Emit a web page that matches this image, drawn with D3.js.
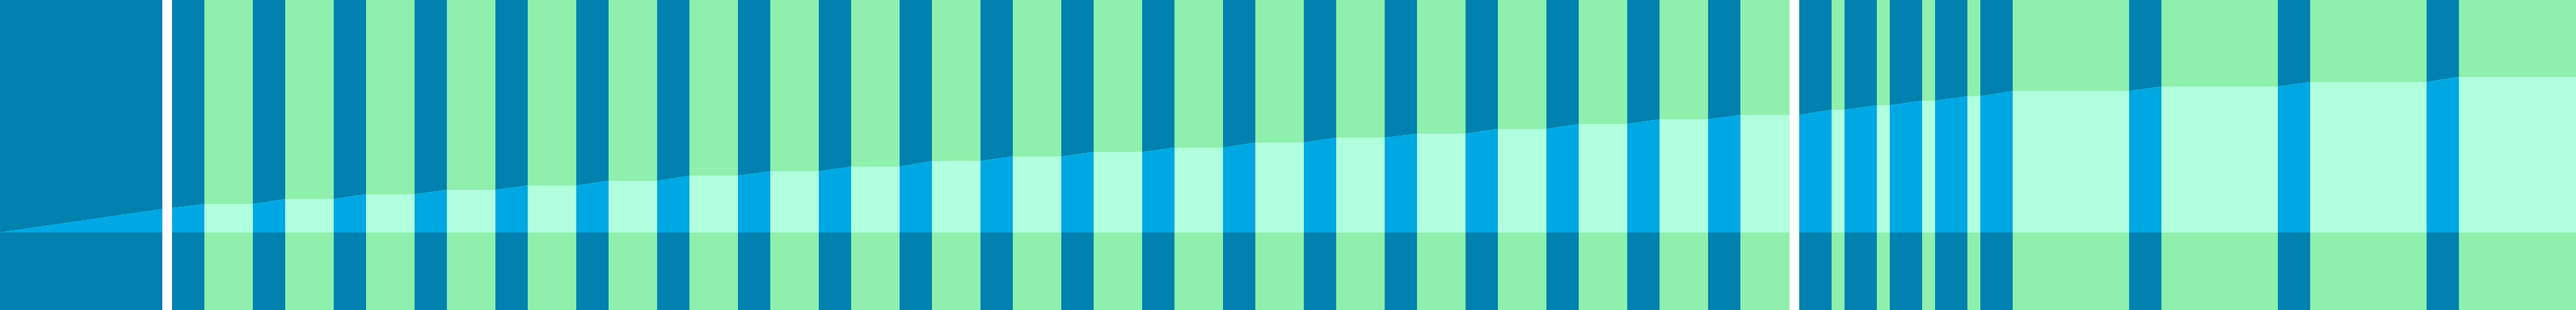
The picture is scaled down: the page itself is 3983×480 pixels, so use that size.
<!DOCTYPE html>
<html>
<head>
<meta charset="utf-8">
<script src="https://cdn.jsdelivr.net/npm/d3@7"></script>
<style>
  html, body { margin: 0; padding: 0; background: #fff; }
  svg { display: block; }
</style>
</head>
<body>
<svg id="chart"></svg>
<script>
// time runs in abstract units (1 unit = 5 px at this size)
var tEnd = 796.6;

// "on" periods (dark bands) - start / end
var darkStart = [0, 53.2, 78.2, 103.2, 128.2, 153.2, 178.2, 203.2, 228.2, 253.2, 278.2,
  303.2, 328.2, 353.2, 378.2, 403.2, 428.2, 453.2, 478.2, 503.2, 528.2,
  556.4, 570.4, 584.4, 598.4, 612.4,
  658.4, 704.4, 750.4];
var darkEnd = [50.2, 63.2, 88.2, 113.2, 138.2, 163.2, 188.2, 213.2, 238.2, 263.2, 288.2,
  313.2, 338.2, 363.2, 388.2, 413.2, 438.2, 463.2, 488.2, 513.2, 538.2,
  566.4, 580.4, 594.4, 608.4, 622.4,
  668.4, 714.4, 760.4];

// cumulative value at the start / end of each dark band
var valueStart = [0, 38, 44, 51.7, 59.3, 66, 72.7, 80, 88, 94.7, 102,
  110.7, 117.7, 124.7, 131.3, 139.3, 146.7, 153, 160.3, 168, 175.3,
  182, 190, 197, 204, 211,
  219, 226, 233];
var valueEnd = [36.3, 44, 51.7, 59.3, 66, 72.7, 80, 88, 94.7, 102, 110.7,
  117.7, 124.7, 131.3, 139.3, 146.7, 153, 160.3, 168, 175.3, 182,
  190, 197, 204, 211, 219,
  226, 233, 241];

// breaks in the record
var gaps = [[50.2, 53.2], [553.4, 556.4]];

var width = 3983, height = 480;

var x = d3.scaleLinear().domain([0, tEnd]).range([0, width]);
var y = d3.scaleLinear().domain([-120, 360]).range([height, 0]);

var svg = d3.select('#chart')
  .attr('width', width)
  .attr('height', height);

var bands = darkStart.map(function(d, i) { return {start: d, end: darkEnd[i]}; });

// line points: ramp during dark bands, hold in between
var pts = [];
darkStart.forEach(function(d, i) {
  pts.push({t: d, v: valueStart[i]});
  pts.push({t: darkEnd[i], v: valueEnd[i]});
});
pts.push({t: tEnd, v: valueEnd[valueEnd.length - 1]});

var area = d3.area()
  .x(function(d) { return x(d.t); })
  .y0(y(0))
  .y1(function(d) { return y(d.v); })
  .curve(d3.curveLinear);

svg.append('defs').append('clipPath')
  .attr('id', 'areaClip')
  .append('path')
  .attr('d', area(pts));

function drawBands(g, bg, fg) {
  g.append('rect')
    .attr('x', x(0))
    .attr('y', 0)
    .attr('width', x(tEnd) - x(0))
    .attr('height', height)
    .style('fill', bg);
  g.selectAll('rect.dark')
    .data(bands)
    .enter().append('rect')
    .attr('class', 'dark')
    .attr('x', function(d) { return x(d.start); })
    .attr('y', 0)
    .attr('width', function(d) { return x(d.end) - x(d.start); })
    .attr('height', height)
    .attr('shape-rendering', 'crispEdges')
    .style('fill', fg);
}

drawBands(svg.append('g'), '#8FEFAC', '#0081B0');
drawBands(svg.append('g').attr('clip-path', 'url(#areaClip)'), '#B0FFDD', '#00A8E3');

svg.append('g').selectAll('rect')
  .data(gaps)
  .enter().append('rect')
  .attr('x', function(d) { return x(d[0]); })
  .attr('y', 0)
  .attr('width', function(d) { return x(d[1]) - x(d[0]); })
  .attr('height', height)
  .attr('shape-rendering', 'crispEdges')
  .style('fill', '#fff');
</script>
</body>
</html>
